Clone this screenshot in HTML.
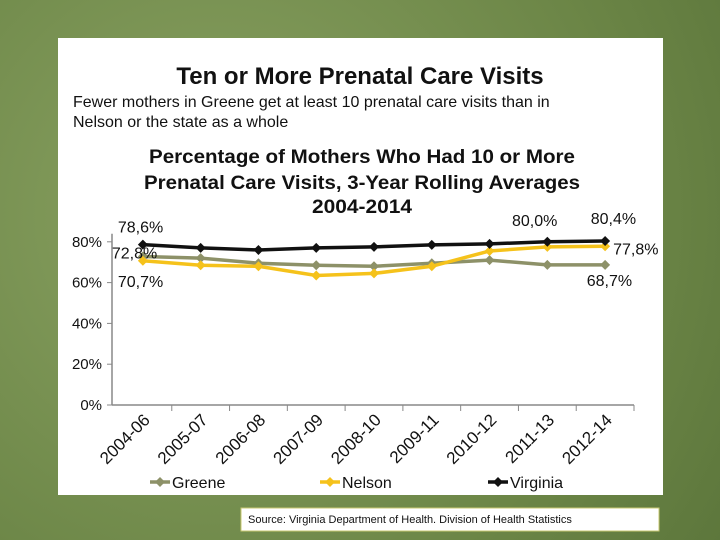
<!DOCTYPE html>
<html><head><meta charset="utf-8"><style>
body{margin:0;width:720px;height:540px;overflow:hidden;background:#6f8a4a;font-family:"Liberation Sans",sans-serif}
#bg{position:absolute;left:0;top:0;width:720px;height:540px;background:radial-gradient(circle at 30% 40%,#8aa262,#6b8546 70%,#5d773c)}
</style></head><body>
<div id="bg"></div>
<svg width="720" height="540" style="position:absolute;left:0;top:0">
<rect x="58" y="38" width="605" height="457" fill="#fff"/>
<text x="360" y="84" text-anchor="middle" font-size="24" font-weight="bold" fill="#111">Ten or More Prenatal Care Visits</text>
<text x="73" y="107" font-size="16" fill="#111">Fewer mothers in Greene get at least 10 prenatal care visits than in</text>
<text x="73" y="127" font-size="16" fill="#111">Nelson or the state as a whole</text>
<g font-weight="bold" font-size="19" fill="#111" text-anchor="middle">
<text x="362" y="163" textLength="426" lengthAdjust="spacingAndGlyphs">Percentage of Mothers Who Had 10 or More</text>
<text x="362" y="189" textLength="436" lengthAdjust="spacingAndGlyphs">Prenatal Care Visits, 3-Year Rolling Averages</text>
<text x="362" y="213" textLength="100" lengthAdjust="spacingAndGlyphs">2004-2014</text>
</g>
<g id="chart"></g>
<rect x="241" y="508" width="418" height="23" fill="#fff" stroke="#c8c870"/>
<text x="248" y="523" font-size="11" fill="#111">Source: Virginia Department of Health. Division of Health Statistics</text>
</svg>
<script>
const categories=["2004-06","2005-07","2006-08","2007-09","2008-10","2009-11","2010-12","2011-13","2012-14"];
const greene=[72.8,72,69.5,68.5,68,69.5,71,68.7,68.7];
const nelson=[70.7,68.5,68,63.5,64.5,68,75.5,77.5,77.8];
const virginia=[78.6,77,76,77,77.5,78.5,79,80.0,80.4];
const yTicks=[0,20,40,60,80];
const NS="http://www.w3.org/2000/svg";
const g=document.getElementById('chart');
const x0=114,x1=634,y0=405,yScale=2.04;
const X=i=>x0+(i+0.5)*(x1-x0)/categories.length;
const Y=v=>y0-v*yScale;
function mk(t,a,p){const e=document.createElementNS(NS,t);for(const k in a)e.setAttribute(k,a[k]);(p||g).appendChild(e);return e;}
const ax=mk('line',{x1:x0-2,y1:Y(80)-8,x2:x0-2,y2:y0,stroke:'#888','stroke-width':1.5});


const bx=mk('line',{x1:x0-2,y1:y0,x2:x1,y2:y0,stroke:'#888','stroke-width':1.5});


yTicks.forEach(v=>{
 const tk=mk('line',{x1:x0-7,y1:Y(v),x2:x0-2,y2:Y(v),stroke:'#888'});
 
 
 const t=mk('text',{x:x0-12,y:Y(v)+5,'text-anchor':'end','font-size':15,fill:'#111'});
 t.textContent=v+'%';
 
 
});
categories.forEach((c,i)=>{
 const tx=x0+(i+1)*(x1-x0)/categories.length;
 const tk=mk('line',{x1:tx,y1:y0,x2:tx,y2:y0+6,stroke:'#888'});
 
 
 const cx=X(i)+8,cy=y0+16;
 const t=mk('text',{x:cx,y:cy,'text-anchor':'end','font-size':17,fill:'#111',transform:`rotate(-45 ${cx} ${cy})`});
 t.textContent=c;
 
 
});
function series(data,color,name){
 const p=mk('polyline',{points:data.map((v,i)=>X(i)+','+Y(v)).join(' '),fill:'none',stroke:color,'stroke-width':3.5});
 
 
 data.forEach((v,i)=>{
  const m=mk('polygon',{points:`${X(i)},${Y(v)-5} ${X(i)+5},${Y(v)} ${X(i)},${Y(v)+5} ${X(i)-5},${Y(v)}`,fill:color});
  
  
 });
}
series(greene,'#8d9168','greene');
series(nelson,'#f5c21b','nelson');
series(virginia,'#111','virginia');
function lab(txt,x,y,anchor){const t=mk('text',{x:x,y:y,'text-anchor':anchor||'start','font-size':16,fill:'#111'});t.textContent=txt;
 
 }
const f=v=>v.toFixed(1).replace('.',',')+'%';
lab(f(virginia[0]),X(0)-25,Y(virginia[0])-12);
lab(f(greene[0]),X(0)-31,Y(greene[0])+2);
lab(f(nelson[0]),X(0)-25,Y(nelson[0])+26);
lab(f(virginia[7]),X(7)+10,Y(virginia[7])-16,'end');
lab(f(virginia[8]),X(8)+31,Y(virginia[8])-17,'end');
lab(f(nelson[8]),X(8)+8,Y(nelson[8])+8);
lab(f(greene[8]),X(8)+27,Y(greene[8])+21,'end');
[['Greene','#8d9168',150],['Nelson','#f5c21b',320],['Virginia','#111',488]].forEach(([n,c,lx])=>{
 const l=mk('line',{x1:lx,y1:482,x2:lx+20,y2:482,stroke:c,'stroke-width':3.5});
 
 
 mk('polygon',{points:`${lx+10},477 ${lx+15},482 ${lx+10},487 ${lx+5},482`,fill:c});
 const t=mk('text',{x:lx+22,y:488,'font-size':16,fill:'#111'});t.textContent=n;
 
 
});
</script>
</body></html>
